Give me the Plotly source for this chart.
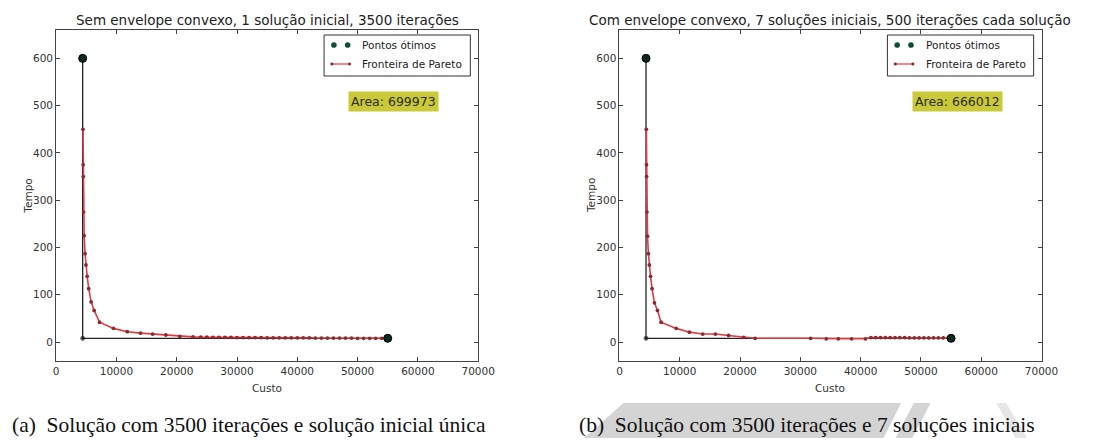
import plotly.graph_objects as go

# ---------------- data ----------------
# Left panel: Pareto front (Custo, Tempo)
left_front_x = [4450, 4480, 4500, 4550, 4650, 4800, 4950, 5150, 5400, 5800, 6300, 7200,
                9500, 11800, 14000, 16000, 18200, 20500, 22700,
                24000, 25000, 26000, 27000, 28000, 29000, 30000, 31000, 32000, 33000,
                34000, 35000, 36000, 37000, 38000, 39000, 40000, 41000, 42000, 43000,
                44000, 45000, 46000, 47000, 48000, 49000, 50000, 51000, 52000, 53000,
                54000, 55000]
left_front_y = [450, 375, 350, 275, 225, 187, 163, 139, 113, 85, 67, 42,
                29, 22, 19, 17, 15, 12, 11,
                10.5, 10.5, 10, 10, 10, 10, 9.5, 9.5, 9.5, 9.5,
                9.5, 9, 9, 9, 9, 9, 9, 9, 9, 8.5,
                8.5, 8.5, 8.5, 8.5, 8.5, 8.5, 8, 8, 8, 8,
                8, 8]

# Right panel: Pareto front (Custo, Tempo)
right_front_x = [4450, 4480, 4500, 4550, 4650, 4800, 4950, 5150, 5400, 5800, 6300, 6900,
                 9400, 11600, 13800, 15900, 18100, 20600, 22500,
                 31700, 34300, 36300, 38500, 40800,
                 41700, 42500, 43300, 44100, 44900, 45700, 46500, 47300, 48100, 48900,
                 49700, 50500, 51300, 52100, 52900, 53700, 54500, 55000]
right_front_y = [450, 375, 350, 275, 224, 187, 163, 139, 113, 83, 67, 42,
                 29, 21, 17, 17, 14, 10, 8,
                 8, 7, 7, 7, 7,
                 9.5, 9.5, 9.5, 9.5, 9.5, 9.5, 9.5, 9.5, 9, 9,
                 9, 9, 9, 9, 9, 9, 9, 8]

# Optimal points (min cost, min time) and the reference corner used for the area
opt_x = [4400, 55000]
opt_y = [600, 8]
ref_x = [4400, 4400, 55000]
ref_y = [600, 8, 8]

areas = ["Area: 699973", "Area: 666012"]
titles = ["Sem envelope convexo, 1 solução inicial, 3500 iterações",
          "Com envelope convexo, 7 soluções iniciais, 500 iterações cada solução"]
captions = ["(a)  Solução com 3500 iterações e solução inicial única",
            "(b)  Solução com 3500 iterações e 7 soluções iniciais"]
x_ticks = [0, 10000, 20000, 30000, 40000, 50000, 60000, 70000]
y_ticks = [0, 100, 200, 300, 400, 500, 600]

# ---------------- layout helpers ----------------
# page body has an 8px default margin: the figure is placed at (8, 8)
OFF = 8
W, H = 1093 - 2 * OFF, 446 - 2 * OFF
def PX(x):
    return (x - OFF) / W
def PY(y):
    return 1 - (y - OFF) / H

FONT = "DejaVu Sans"
RED = "#e23a45"
DARKRED = "#8e2a30"
GREEN = "#0e4d35"

panels = [
    dict(xa="x", ya="y", left=54, right=484, front=(left_front_x, left_front_y)),
    dict(xa="x2", ya="y2", left=628, right=1058, front=(right_front_x, right_front_y)),
]
top_px, bot_px = 30, 361

fig = go.Figure()
shapes = []
annotations = []

for i, p in enumerate(panels):
    fx, fy = p["front"]
    # black reference lines
    fig.add_trace(go.Scatter(x=ref_x, y=ref_y, xaxis=p["xa"], yaxis=p["ya"],
                             mode="lines+markers", line=dict(color="#222222", width=1.3),
                             marker=dict(size=[0, 4, 0], color="#111111"),
                             showlegend=False, hoverinfo="skip"))
    # Pareto front
    fig.add_trace(go.Scatter(x=fx, y=fy, xaxis=p["xa"], yaxis=p["ya"],
                             mode="lines+markers", line=dict(color=RED, width=1.6),
                             marker=dict(size=3.8, color=DARKRED),
                             name="Fronteira de Pareto", showlegend=False))
    # optimal points
    fig.add_trace(go.Scatter(x=opt_x, y=opt_y, xaxis=p["xa"], yaxis=p["ya"],
                             mode="markers",
                             marker=dict(size=8, color="#0b2a1f", line=dict(color="#000000", width=1)),
                             name="Pontos ótimos", showlegend=False))

    cx = (p["left"] + p["right"]) / 2
    # title
    annotations.append(dict(text=titles[i], x=PX(cx), y=PY(20), xref="paper", yref="paper",
                            showarrow=False, xanchor="center", yanchor="middle",
                            font=dict(family=FONT, size=13.5, color="#222222")))
    # x-axis label
    annotations.append(dict(text="Custo", x=PX(cx), y=PY(388), xref="paper", yref="paper",
                            showarrow=False, xanchor="center", yanchor="middle",
                            font=dict(family=FONT, size=10.5, color="#333333")))
    # y-axis label
    annotations.append(dict(text="Tempo", x=PX(p["left"] - 29), y=PY(196), xref="paper", yref="paper",
                            showarrow=False, xanchor="center", yanchor="middle", textangle=-90,
                            font=dict(family=FONT, size=10.5, color="#333333")))
    # area label (placed in data coords)
    annotations.append(dict(text=areas[i], x=56000, y=508, xref=p["xa"], yref=p["ya"],
                            showarrow=False, xanchor="center", yanchor="middle",
                            bgcolor="#c9c93a", borderpad=2,
                            font=dict(family=FONT, size=12.5, color="#2e2e10")))

    # custom legend (matplotlib style)
    lx0 = p["left"] + 273
    lx1 = p["right"] - 8
    shapes.append(dict(type="rect", xref="paper", yref="paper",
                       x0=PX(lx0), x1=PX(lx1), y0=PY(76), y1=PY(35),
                       line=dict(color="#333333", width=1), fillcolor="white", layer="above"))
    for mx in (lx0 + 10, lx0 + 24):
        shapes.append(dict(type="circle", xref="paper", yref="paper",
                           xsizemode="pixel", ysizemode="pixel",
                           xanchor=PX(mx), yanchor=PY(45),
                           x0=-2.6, x1=2.6, y0=-2.6, y1=2.6,
                           fillcolor=GREEN, line=dict(color=GREEN, width=0.5), layer="above"))
    shapes.append(dict(type="line", xref="paper", yref="paper",
                       x0=PX(lx0 + 8), x1=PX(lx0 + 26), y0=PY(64), y1=PY(64),
                       line=dict(color=RED, width=1.2), layer="above"))
    for mx in (lx0 + 8, lx0 + 26):
        shapes.append(dict(type="circle", xref="paper", yref="paper",
                           xsizemode="pixel", ysizemode="pixel",
                           xanchor=PX(mx), yanchor=PY(64),
                           x0=-1.3, x1=1.3, y0=-1.3, y1=1.3,
                           fillcolor=DARKRED, line=dict(color=DARKRED, width=0.5), layer="above"))
    annotations.append(dict(text="Pontos ótimos", x=PX(lx0 + 37), y=PY(45), xref="paper", yref="paper",
                            showarrow=False, xanchor="left", yanchor="middle",
                            font=dict(family=FONT, size=10.5, color="#222222")))
    annotations.append(dict(text="Fronteira de Pareto", x=PX(lx0 + 37), y=PY(64), xref="paper", yref="paper",
                            showarrow=False, xanchor="left", yanchor="middle",
                            font=dict(family=FONT, size=10.5, color="#222222")))

# captions (kept inside the figure's bottom edge)
annotations.append(dict(text=captions[0], x=PX(OFF), y=PY(437.5), xref="paper", yref="paper",
                        showarrow=False, xanchor="left", yanchor="bottom", borderpad=0,
                        font=dict(family="Liberation Serif", size=21.5, color="#111111")))
annotations.append(dict(text=captions[1], x=PX(586), y=PY(437.5), xref="paper", yref="paper",
                        showarrow=False, xanchor="left", yanchor="bottom", borderpad=0,
                        font=dict(family="Liberation Serif", size=21.5, color="#111111")))

# faint watermark shapes behind caption (b)
def poly(pts):
    return "M " + " L ".join(f"{PX(x)},{PY(y)}" for x, y in pts) + " Z"
for pts, col in [
    ([(583, 446), (632, 403), (915, 403), (893, 446)], "#d4d4d4"),
    ([(905, 446), (922, 446), (945, 403), (928, 403)], "#d4d4d4"),
    ([(1012, 403), (1022, 403), (1048, 446), (1036, 446)], "#e6e6e6"),
]:
    shapes.append(dict(type="path", xref="paper", yref="paper", path=poly(pts),
                       fillcolor=col, line=dict(width=0), layer="below"))

axis_common = dict(showgrid=False, zeroline=False, showline=True, linecolor="#444444",
                   linewidth=1, mirror="ticks", ticks="inside", ticklen=4, tickcolor="#444444",
                   tickfont=dict(family=FONT, size=10.5, color="#333333"))

fig.update_layout(
    width=W, height=H, autosize=False,
    margin=dict(l=0, r=0, t=0, b=0),
    paper_bgcolor="white", plot_bgcolor="white",
    showlegend=False,
    xaxis=dict(domain=[PX(54), PX(484)], range=[0, 70000], tickvals=x_ticks,
               ticktext=[str(v) for v in x_ticks], anchor="y", **axis_common),
    yaxis=dict(domain=[PY(bot_px), PY(top_px)], range=[-40, 660], tickvals=y_ticks,
               ticktext=[str(v) for v in y_ticks], anchor="x", **axis_common),
    xaxis2=dict(domain=[PX(628), PX(1058)], range=[0, 70000], tickvals=x_ticks,
                ticktext=[str(v) for v in x_ticks], anchor="y2", **axis_common),
    yaxis2=dict(domain=[PY(bot_px), PY(top_px)], range=[-40, 660], tickvals=y_ticks,
                ticktext=[str(v) for v in y_ticks], anchor="x2", **axis_common),
    shapes=shapes,
    annotations=annotations,
)

fig.write_html("out.html")
